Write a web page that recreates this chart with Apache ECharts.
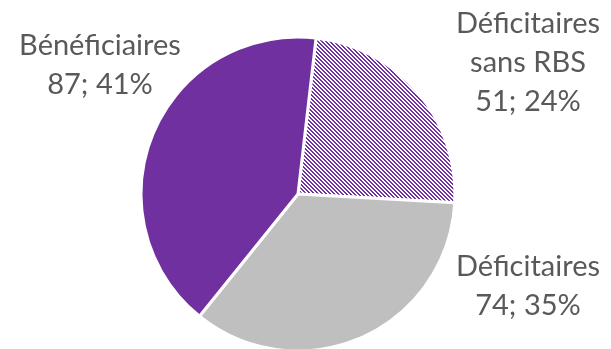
<!DOCTYPE html>
<html><head><meta charset="utf-8">
<script src="https://cdn.jsdelivr.net/npm/echarts@6/dist/echarts.min.js"></script>
<style>html,body{margin:0;padding:0;background:#fff}#c{width:611px;height:349px}</style>
</head><body><div id="c"></div>
<script>
const categories = ['Déficitaires\nsans RBS', 'Déficitaires', 'Bénéficiaires'];
const values = [51, 74, 87];

function hatch() {
  const c = document.createElement('canvas');
  c.width = 4; c.height = 4;
  const g = c.getContext('2d');
  g.fillStyle = '#ffffff'; g.fillRect(0, 0, 4, 4);
  g.fillStyle = '#7030A0';
  for (let y = 0; y < 4; y++) {
    for (let x = 0; x < 4; x++) {
      const m = ((x - y) % 4 + 4) % 4;
      if (m === 0 || m === 1) g.fillRect(x, y, 1, 1);
    }
  }
  return c;
}
const colors = [{image: hatch(), repeat: 'repeat'}, '#BFBFBF', '#7030A0'];
const labelPos = [[528, 63], [528, 286], [100, 65]];

const chart = echarts.init(document.getElementById('c'), null, {renderer: 'canvas'});
chart.setOption({
  animation: false,
  series: [{
    type: 'pie',
    center: [298, 194],
    radius: 157,
    startAngle: 83.4,
    clockwise: true,
    percentPrecision: 0,
    data: categories.map((n, i) => ({name: n, value: values[i], itemStyle: {color: colors[i]}})),
    itemStyle: {borderColor: '#ffffff', borderWidth: 3},
    label: {
      show: true,
      formatter: '{b}\n{c}; {d}%',
      fontFamily: 'Lato',
      fontSize: 29,
      lineHeight: 39,
      color: '#595959',
      align: 'center',
      overflow: 'none',
      width: 220
    },
    labelLine: {show: false},
    labelLayout: (p) => ({x: labelPos[p.dataIndex][0], y: labelPos[p.dataIndex][1], align: 'center', verticalAlign: 'middle'})
  }]
});
</script></body></html>
